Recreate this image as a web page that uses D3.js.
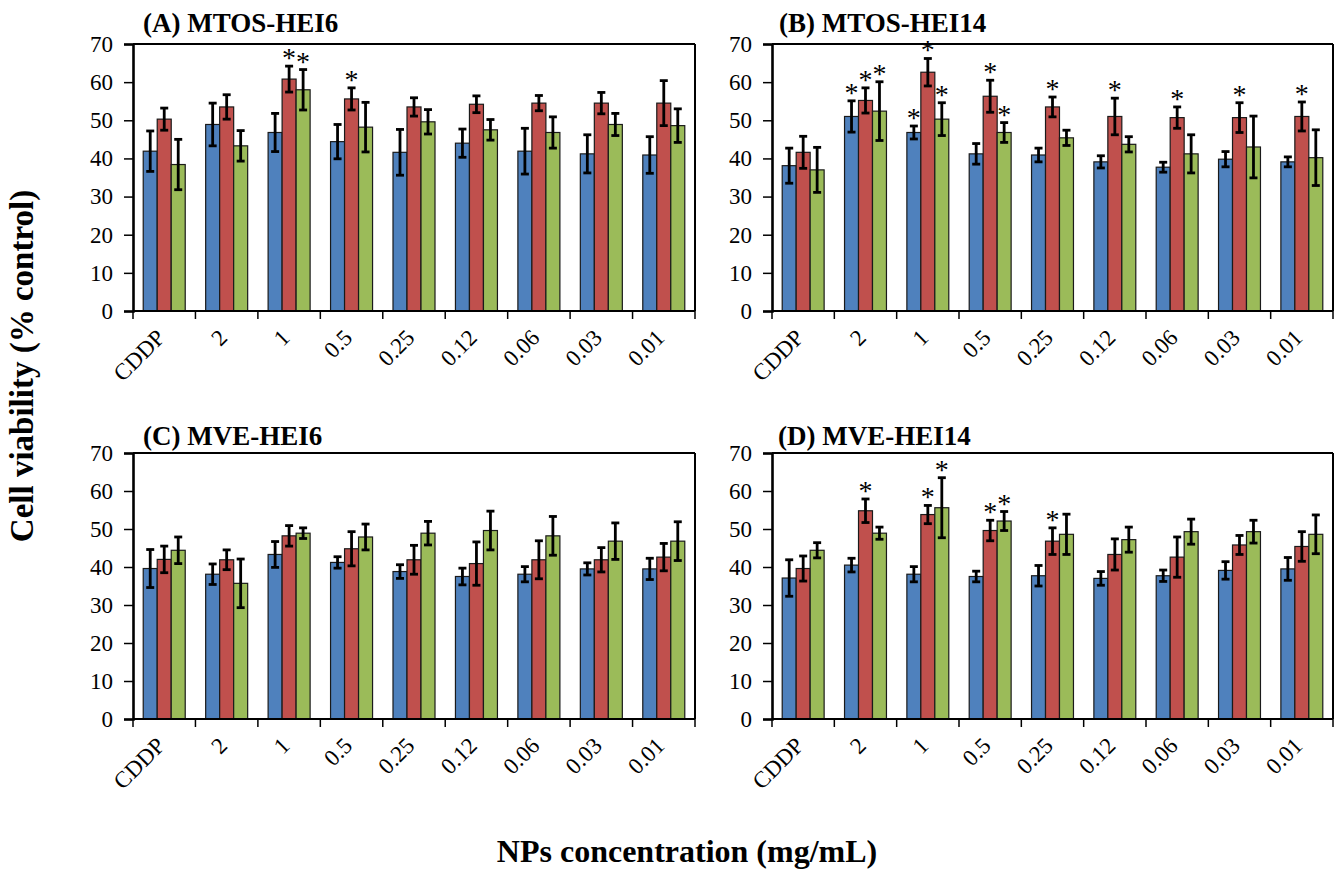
<!DOCTYPE html>
<html>
<head>
<meta charset="utf-8">
<script src="https://cdn.jsdelivr.net/npm/d3@7"></script>
<style>
  html, body { margin: 0; padding: 0; background: #fff; }
  svg { display: block; }
  text { font-family: "Liberation Serif", "Times New Roman", serif; fill: #000; }
</style>
</head>
<body>
<svg id="chart" width="1335" height="869"></svg>
<script>
// ---------- DATA ----------
const categories = ["CDDP", "2", "1", "0.5", "0.25", "0.12", "0.06", "0.03", "0.01"];
const yTicks = [0, 10, 20, 30, 40, 50, 60, 70];
const seriesColors = ["#4F81BD", "#C0504D", "#9BBB59"];
const panelTitles = ["(A) MTOS-HEI6", "(B) MTOS-HEI14", "(C) MVE-HEI6", "(D) MVE-HEI14"];

// (A) MTOS-HEI6
const aBlue  = [41.9, 48.9, 46.8, 44.4, 41.6, 44.0, 41.9, 41.2, 40.9];
const aRed   = [50.3, 53.5, 60.8, 55.6, 53.5, 54.2, 54.5, 54.5, 54.5];
const aGreen = [38.4, 43.3, 58.0, 48.2, 49.6, 47.5, 46.8, 48.9, 48.6];
const aBlueErr  = [5.3, 5.6, 5.0, 4.5, 6.0, 3.7, 6.0, 5.0, 4.8];
const aRedErr   = [2.9, 3.2, 3.4, 2.9, 2.4, 2.2, 2.0, 2.8, 5.9];
const aGreenErr = [6.6, 4.0, 5.3, 6.5, 3.2, 2.7, 4.1, 2.9, 4.4];
const aStars = [[2, 1], [2, 2], [3, 1]];

// (B) MTOS-HEI14
const bBlue  = [38.1, 51.0, 46.8, 41.2, 40.9, 39.1, 37.7, 39.8, 39.1];
const bRed   = [41.6, 55.2, 62.6, 56.3, 53.5, 51.0, 50.7, 50.7, 51.0];
const bGreen = [37.0, 52.4, 50.3, 46.8, 45.4, 43.7, 41.2, 43.0, 40.2];
const bBlueErr  = [4.6, 4.1, 1.7, 2.7, 1.8, 1.6, 1.3, 2.0, 1.3];
const bRedErr   = [4.2, 3.3, 3.6, 4.2, 2.6, 4.8, 2.8, 3.9, 3.8];
const bGreenErr = [5.9, 7.7, 4.3, 2.6, 2.0, 2.0, 5.0, 8.1, 7.3];
const bStars = [[1, 0], [1, 1], [1, 2], [2, 0], [2, 1], [2, 2], [3, 1], [3, 2],
                [4, 1], [5, 1], [6, 1], [7, 1], [8, 1]];

// (C) MVE-HEI6
const cBlue  = [39.6, 38.1, 43.3, 41.2, 38.8, 37.5, 38.1, 39.5, 39.5];
const cRed   = [42.0, 41.9, 48.2, 44.8, 41.9, 40.9, 41.9, 41.9, 42.6];
const cGreen = [44.4, 35.7, 48.9, 47.9, 48.9, 49.6, 48.2, 46.8, 46.8];
const cBlueErr  = [5.0, 2.7, 3.4, 1.5, 1.8, 2.2, 2.0, 1.6, 2.8];
const cRedErr   = [3.5, 2.6, 2.7, 4.5, 3.8, 5.7, 5.0, 3.2, 3.6];
const cGreenErr = [3.5, 6.4, 1.4, 3.4, 3.1, 5.1, 5.1, 4.8, 5.1];
const cStars = [];

// (D) MVE-HEI14
const dBlue  = [37.1, 40.5, 38.1, 37.5, 37.7, 37.0, 37.7, 39.1, 39.5];
const dRed   = [39.6, 54.8, 53.8, 49.6, 46.8, 43.3, 42.6, 45.8, 45.4];
const dGreen = [44.4, 48.9, 55.6, 52.1, 48.6, 47.2, 49.3, 49.3, 48.6];
const dBlueErr  = [4.8, 1.8, 2.0, 1.4, 2.7, 1.8, 1.5, 2.3, 3.0];
const dRedErr   = [3.3, 3.1, 2.4, 2.7, 3.5, 4.1, 5.3, 2.5, 3.9];
const dGreenErr = [2.0, 1.6, 7.9, 2.5, 5.3, 3.3, 3.3, 3.0, 5.1];
const dStars = [[1, 1], [2, 1], [2, 2], [3, 1], [3, 2], [4, 1]];

// ---------- LAYOUT ----------
const panels = [
  { title: panelTitles[0], means: [aBlue, aRed, aGreen], errs: [aBlueErr, aRedErr, aGreenErr], stars: aStars, x0: 133, x1: 695, y0: 44, y1: 311, tx: 143, ty: 32 },
  { title: panelTitles[1], means: [bBlue, bRed, bGreen], errs: [bBlueErr, bRedErr, bGreenErr], stars: bStars, x0: 772, x1: 1333, y0: 44, y1: 311, tx: 779, ty: 32 },
  { title: panelTitles[2], means: [cBlue, cRed, cGreen], errs: [cBlueErr, cRedErr, cGreenErr], stars: cStars, x0: 133, x1: 695, y0: 453, y1: 719, tx: 143, ty: 445 },
  { title: panelTitles[3], means: [dBlue, dRed, dGreen], errs: [dBlueErr, dRedErr, dGreenErr], stars: dStars, x0: 772, x1: 1333, y0: 453, y1: 719, tx: 778, ty: 445 }
];

const svg = d3.select("#chart");

panels.forEach(p => {
  const g = svg.append("g");
  const x = d3.scaleBand().domain(categories).range([p.x0, p.x1]).padding(0);
  const xs = d3.scaleBand().domain([0, 1, 2]).range([0, x.bandwidth()]).paddingInner(0).paddingOuter(0.73);
  const y = d3.scaleLinear().domain([0, 70]).range([p.y1, p.y0]);

  // bars
  p.means.forEach((vals, si) => {
    g.append("g").selectAll("rect").data(vals).join("rect")
      .attr("x", (d, i) => x(categories[i]) + xs(si))
      .attr("y", d => y(d))
      .attr("width", xs.bandwidth())
      .attr("height", d => y(0) - y(d))
      .attr("fill", seriesColors[si])
      .attr("stroke", "#1a1a1a")
      .attr("stroke-width", 1.2);
  });

  // error bars
  p.means.forEach((vals, si) => {
    const eg = g.append("g").attr("stroke", "#000").attr("stroke-width", 2.8).attr("fill", "none");
    vals.forEach((d, i) => {
      const cx = x(categories[i]) + xs(si) + xs.bandwidth() / 2;
      const e = p.errs[si][i];
      const yt = y(d + e), yb = y(d - e);
      eg.append("line").attr("x1", cx).attr("x2", cx).attr("y1", yt).attr("y2", yb);
      eg.append("line").attr("x1", cx - 4).attr("x2", cx + 4).attr("y1", yt).attr("y2", yt);
      eg.append("line").attr("x1", cx - 4).attr("x2", cx + 4).attr("y1", yb).attr("y2", yb);
    });
  });

  // stars
  g.append("g").selectAll("text").data(p.stars).join("text")
    .attr("x", d => x(categories[d[0]]) + xs(d[1]) + xs.bandwidth() / 2)
    .attr("y", d => y(p.means[d[1]][d[0]] + p.errs[d[1]][d[0]]) + 1)
    .attr("text-anchor", "middle")
    .style("font-size", "28px")
    .text("*");

  // frame: top and right
  g.append("line").attr("x1", p.x0).attr("x2", p.x1).attr("y1", p.y0).attr("y2", p.y0)
    .attr("stroke", "#000").attr("stroke-width", 2);
  g.append("line").attr("x1", p.x1).attr("x2", p.x1).attr("y1", p.y0).attr("y2", p.y1)
    .attr("stroke", "#000").attr("stroke-width", 2);

  // y axis
  const yAxis = g.append("g").attr("transform", `translate(${p.x0},0)`)
    .call(d3.axisLeft(y).tickValues(yTicks).tickSize(9).tickPadding(11).tickFormat(d3.format("d")));
  yAxis.select(".domain").attr("stroke", "#000").attr("stroke-width", 2.6);
  yAxis.selectAll(".tick line").attr("stroke", "#000").attr("stroke-width", 1.5);
  yAxis.selectAll(".tick text").style("font-size", "23px").style("font-family", "'Liberation Serif', serif").attr("fill", "#000");

  // x axis (ticks at band boundaries)
  const xg = g.append("g");
  xg.append("line").attr("x1", p.x0).attr("x2", p.x1).attr("y1", p.y1).attr("y2", p.y1)
    .attr("stroke", "#000").attr("stroke-width", 2);
  const bounds = categories.map(c => x(c)).concat([p.x1]);
  xg.selectAll("line.tk").data(bounds).join("line").attr("class", "tk")
    .attr("x1", d => d).attr("x2", d => d).attr("y1", p.y1).attr("y2", p.y1 + 8)
    .attr("stroke", "#000").attr("stroke-width", 1.5);
  xg.selectAll("text").data(categories).join("text")
    .attr("transform", c => `translate(${x(c) + x.bandwidth() / 2 + 2},${p.y1 + 28}) rotate(-45)`)
    .attr("text-anchor", "end")
    .style("font-size", "23px")
    .text(c => c);

  // panel title
  g.append("text").attr("x", p.tx).attr("y", p.ty)
    .style("font-size", "27px").style("font-weight", "bold")
    .text(p.title);
});

// axis titles
svg.append("text")
  .attr("transform", "translate(33,366) rotate(-90)")
  .attr("text-anchor", "middle")
  .style("font-size", "33px").style("font-weight", "bold")
  .text("Cell viability (% control)");

svg.append("text")
  .attr("x", 687).attr("y", 862)
  .attr("text-anchor", "middle")
  .style("font-size", "32px").style("font-weight", "bold")
  .text("NPs concentration (mg/mL)");
</script>
</body>
</html>
